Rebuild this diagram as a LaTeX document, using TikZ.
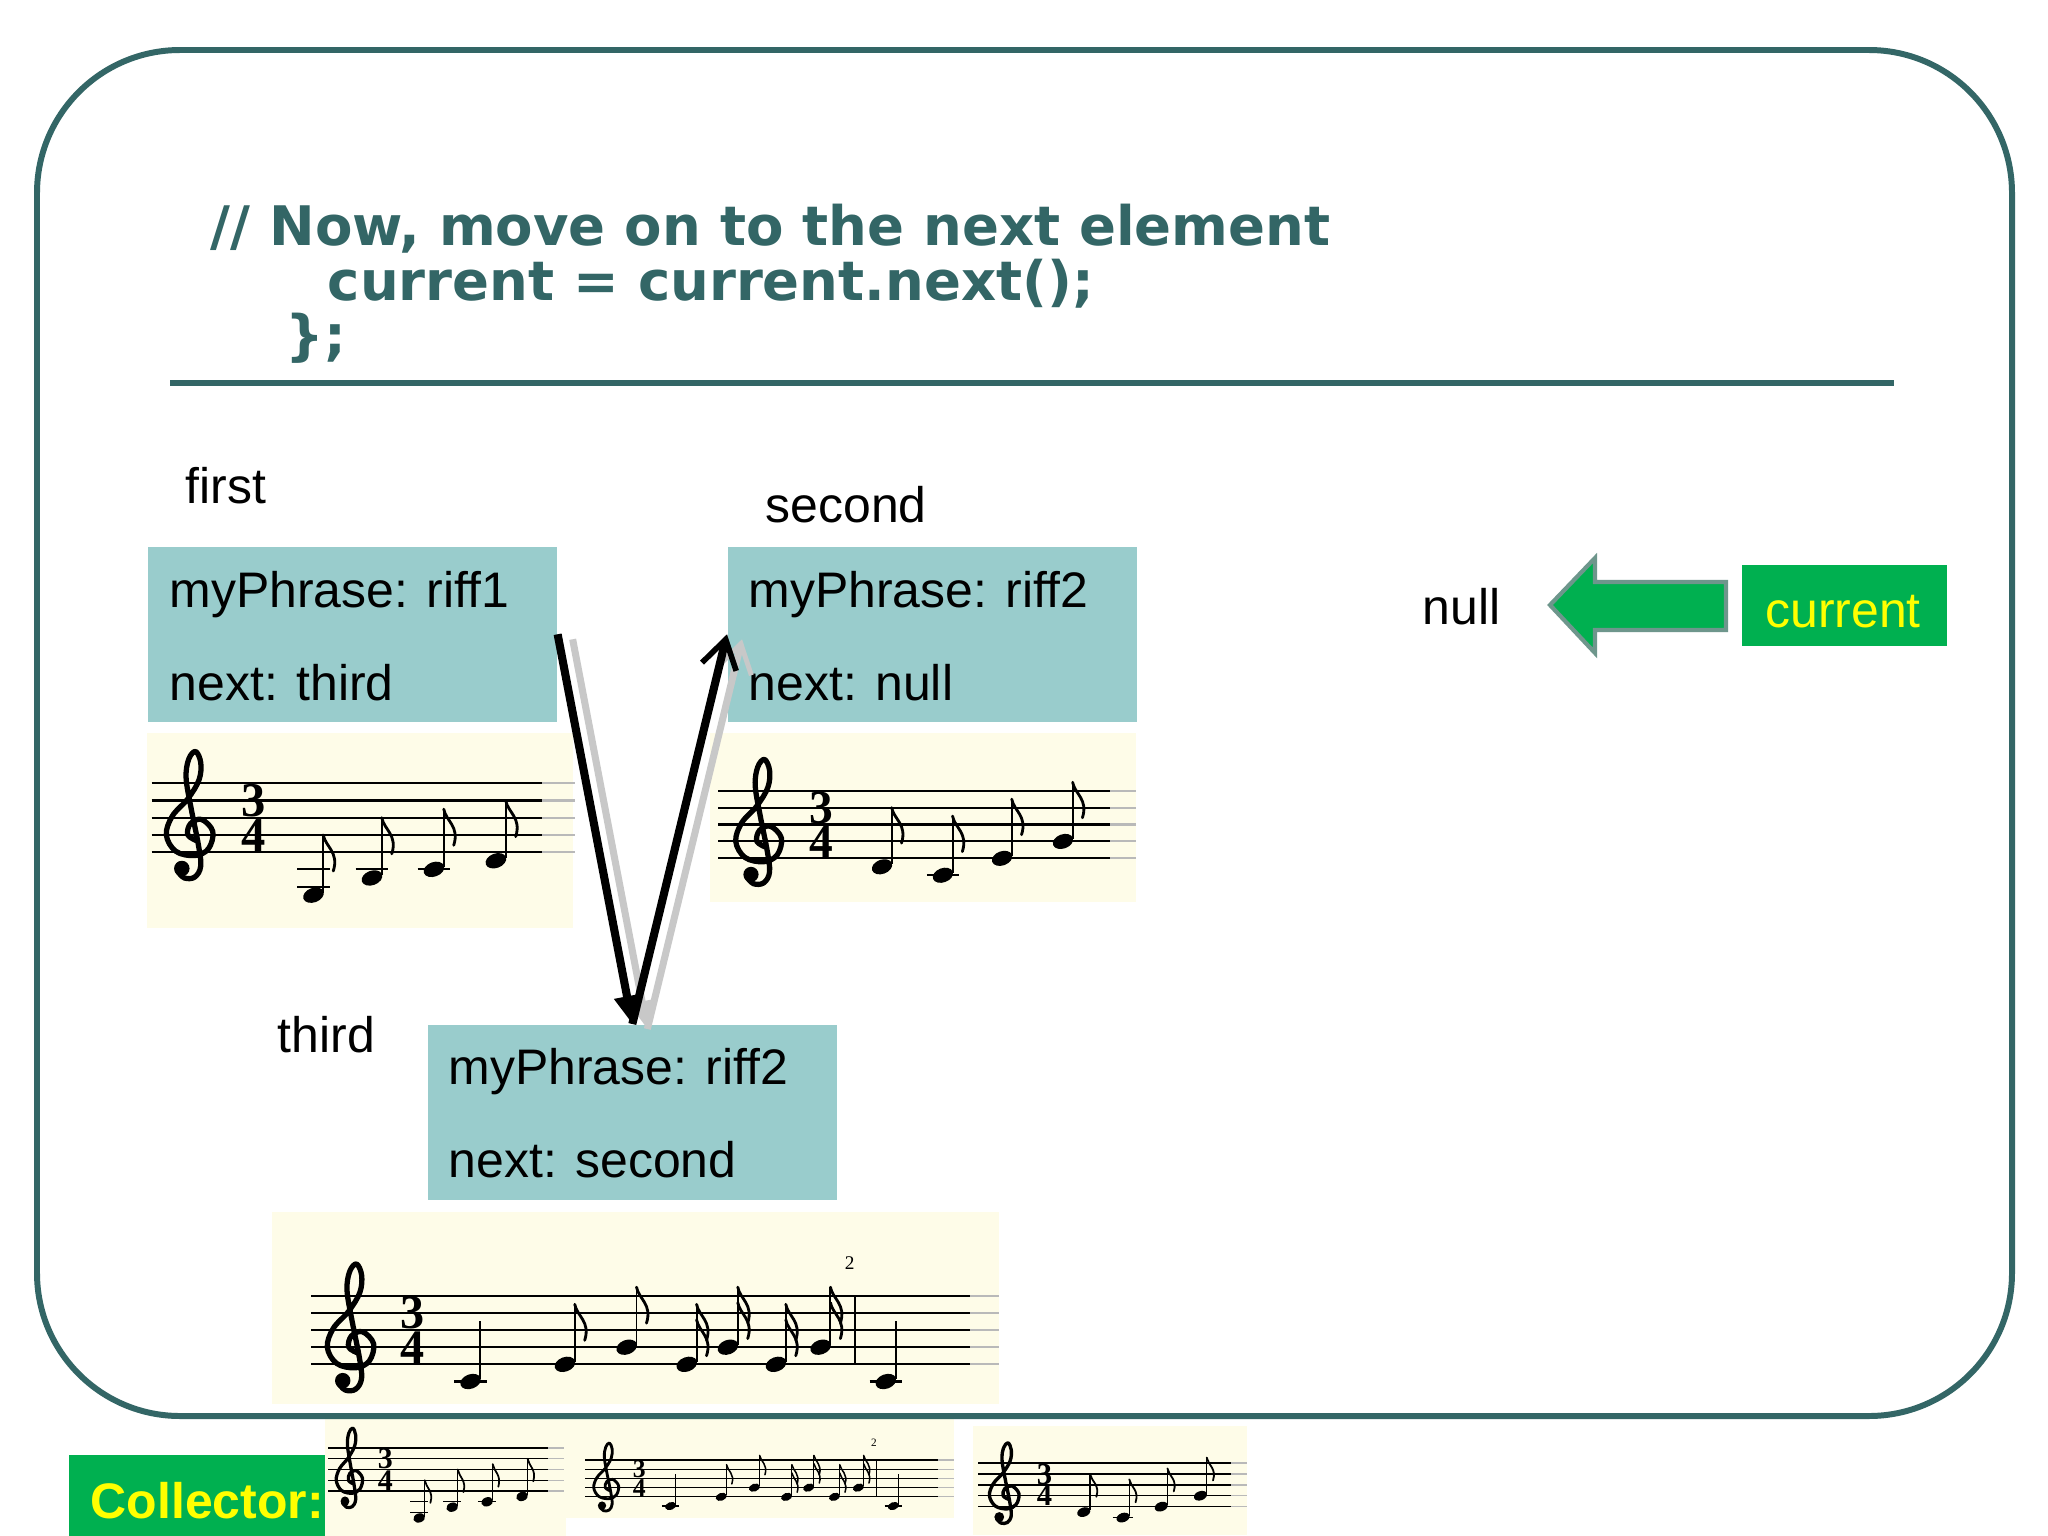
\documentclass[tikz,border=0pt]{standalone}
\usepackage{fontspec}
\setmainfont{Liberation Sans}
\newfontfamily\titlefont{DejaVu Sans}
\newfontfamily\serifd{Liberation Serif}
\usetikzlibrary{arrows.meta}

\definecolor{frameteal}{RGB}{51,102,102}
\definecolor{boxteal}{RGB}{153,204,204}
\definecolor{cream}{RGB}{254,252,232}
\definecolor{mygreen}{RGB}{0,176,80}
\definecolor{myyellow}{RGB}{255,255,0}
\definecolor{arrowedge}{RGB}{110,150,140}
\definecolor{shadowgray}{RGB}{200,200,200}
\definecolor{tailgray}{RGB}{185,185,185}

\def\sclf{1}
\def\tsz{13.6}
\def\tsbs{9.8}
\def\snsz{5.5}
\tikzset{
  frame/.style={draw=frameteal, line width=1.7pt, rounded corners=1.43cm},
  rulestyle/.style={draw=frameteal, line width=1.8pt},
  titletext/.style={anchor=base west, inner sep=0pt, text=frameteal, font={\titlefont\bfseries\fontsize{15.5}{18}\selectfont}},
  lbl/.style={anchor=base west, inner sep=0pt, text=black, font={\fontsize{14.2}{17}\selectfont}},
  ylbl/.style={inner sep=0pt, text=myyellow, font={\fontsize{14.2}{17}\selectfont}},
  colltext/.style={anchor=base west, inner sep=0pt, text=myyellow, font={\bfseries\fontsize{14.2}{17}\selectfont}},
  box/.style={fill=boxteal, draw=none, anchor=north west, minimum width=4.09cm, minimum height=1.75cm, inner sep=0pt},
  greenbox/.style={fill=mygreen, draw=none, anchor=north west, inner sep=0pt},
  ptr/.style={draw=black, line width=2.3pt},
  ptrshadow/.style={draw=shadowgray, line width=2pt},
  blockarrow/.style={fill=mygreen, draw=arrowedge, line width=1.2pt, line join=miter},
  staffline/.style={draw=black, line width=0.6pt*\sclf},
  stafftail/.style={draw=tailgray, line width=0.6pt*\sclf},
  stemline/.style={draw=black, line width=0.55pt*\sclf},
  flagline/.style={draw=black, line width=0.8pt*\sclf, line cap=round},
  clefline/.style={draw=black, line width=1.5pt*\sclf, line cap=round, line join=round},
  barline/.style={draw=black, line width=0.6pt*\sclf},
  tsig/.style={inner sep=0pt, align=center, font={\serifd\bfseries\fontsize{\tsz pt}{\tsbs pt}\selectfont}},
  smallnum/.style={inner sep=0pt, font={\serifd\fontsize{\snsz pt}{\snsz pt}\selectfont}},
  scorebg/.style={fill=cream},
}

% ---- music helpers (local units: 1 = one staff space, y downward) ----
\newcommand\mstaff[2]{%
  \foreach \k in {0,...,4} {\draw[staffline] (0,\k) -- (#1,\k); \draw[stafftail] (#1,\k) -- (#2,\k);}}
\newcommand\mclef[1]{%
  \begin{scope}[shift={(#1,0)}]
    \draw[clefline] plot[smooth, tension=0.6] coordinates {
      (2.75,3.35) (2.2,3.0) (2.35,2.35) (3.0,2.1) (3.65,2.8) (3.4,3.8) (2.6,4.2)
      (1.5,3.95) (0.95,3.0) (1.3,1.9) (2.2,0.9) (2.85,-0.2) (2.95,-1.2) (2.65,-1.85)
      (2.25,-1.4) (2.1,-0.3) (2.4,1.5) (2.8,3.5) (2.95,4.8) (2.6,5.45) (2.0,5.5) (1.6,5.1)};
    \fill (1.85,4.95) circle [radius=0.45];
  \end{scope}}
\newcommand\mtime[1]{\node[tsig] at (#1,2) {3\\4};}
\newcommand\nh[2]{\fill[rotate around={20:(#1,#2)}] (#1,#2) ellipse [x radius=0.62, y radius=0.42];}
\newcommand\mstem[2]{\draw[stemline] (#1+0.57,#2-0.15) -- (#1+0.57,#2-3.5);}
\newcommand\mflag[2]{\draw[flagline] (#1+0.57,#2) .. controls (#1+0.7,#2+0.7) and (#1+1.5,#2+1.0) .. (#1+1.15,#2+2.1);}
\newcommand\ledger[2]{\draw[staffline] (#1-0.95,#2) -- (#1+0.95,#2);}
\newcommand\quarter[2]{\nh{#1}{#2}\mstem{#1}{#2}}
\newcommand\eighth[2]{\nh{#1}{#2}\mstem{#1}{#2}\mflag{#1}{#2-3.5}}
\newcommand\sixteenth[2]{\nh{#1}{#2}\mstem{#1}{#2}\mflag{#1}{#2-3.5}\mflag{#1}{#2-2.6}}

\newcommand\scoreOne{%
  \fill[scorebg] (-0.27,-2.9) rectangle (24.5,8.4);
  \mstaff{22.7}{24.6}
  \mclef{-0.1}
  \mtime{5.9}
  \ledger{9.4}{5}\ledger{9.4}{6}\eighth{9.4}{6.5}
  \ledger{12.8}{5}\eighth{12.8}{5.5}
  \ledger{16.4}{5}\eighth{16.4}{5}
  \eighth{20.0}{4.5}}
\newcommand\scoreTwo{%
  \fill[scorebg] (-0.47,-3.4) rectangle (24.7,6.6);
  \mstaff{23.2}{24.7}
  \mclef{0.1}
  \mtime{6.1}
  \eighth{9.7}{4.5}
  \ledger{13.3}{5}\eighth{13.3}{5}
  \eighth{16.8}{4}
  \eighth{20.4}{3}}
\newcommand\scoreThree{%
  \fill[scorebg] (-2.3,-4.9) rectangle (40.1,6.3);
  \mstaff{38.4}{40.1}
  \mclef{0}
  \mtime{5.9}
  \ledger{9.3}{5}\quarter{9.3}{5}
  \eighth{14.8}{4}\eighth{18.4}{3}
  \sixteenth{21.9}{4}\sixteenth{24.3}{3}\sixteenth{27.1}{4}\sixteenth{29.7}{3}
  \draw[barline] (31.7,0) -- (31.7,4);
  \node[smallnum] at (31.4,-1.9) {2};
  \ledger{33.5}{5}\quarter{33.5}{5}}

\begin{document}
\begin{tikzpicture}[x=0.01cm, y=-0.01cm]
\useasboundingbox (0,0) rectangle (2048,1536);
\fill[white] (0,0) rectangle (2048,1536);

% title code
\node[titletext] (t1) at (210,245) {// Now, move on to the next element};
\node[titletext] (t2) at (327,300) {current = current.next();};
\node[titletext] (t3) at (285,354) {\};};
\draw[rulestyle] (170,383) -- (1894,383);

% scores
\begin{scope}[shift={(151.7,783.3)}, x=0.172cm, y=-0.172cm]
  \def\sclf{1}\def\tsz{13.8}\def\tsbs{9.8}\scoreOne
\end{scope}
\begin{scope}[shift={(718,790.7)}, x=0.169cm, y=-0.169cm]
  \def\sclf{1}\def\tsz{13.5}\def\tsbs{9.6}\scoreTwo
\end{scope}
\begin{scope}[shift={(311,1295.7)}, x=0.1715cm, y=-0.1715cm]
  \def\sclf{1}\def\tsz{13.7}\def\tsbs{9.76}\def\snsz{5.5}\scoreThree
\end{scope}
% collector scores
\begin{scope}[shift={(328,1448)}, x=0.097cm, y=-0.1075cm]
  \def\sclf{0.62}\def\tsz{8.5}\def\tsbs{6.1}\scoreOne
\end{scope}
\begin{scope}[shift={(585,1460)}, x=0.092cm, y=-0.092cm]
  \def\sclf{0.54}\def\tsz{7.3}\def\tsbs{5.2}\def\snsz{3.2}\scoreThree
\end{scope}
\begin{scope}[shift={(978,1463)}, x=0.109cm, y=-0.109cm]
  \def\sclf{0.64}\def\tsz{8.7}\def\tsbs{6.2}\scoreTwo
\end{scope}

% list nodes
\node[box] (b1) at (147,546) {};
\node[box] (b2) at (727,546) {};
\node[box] (b3) at (427,1024) {};
\node[lbl] (b1a) at (169,607) {myPhrase: riff1};
\node[lbl] (b1b) at (169,700) {next: third};
\node[lbl] (b2a) at (748,607) {myPhrase: riff2};
\node[lbl] (b2b) at (748,700) {next: null};
\node[lbl] (b3a) at (448,1084) {myPhrase: riff2};
\node[lbl] (b3b) at (448,1177) {next: second};

\node[lbl] (lfirst) at (185,503) {first};
\node[lbl] (lsecond) at (765,522) {second};
\node[lbl] (lthird) at (277,1052) {third};
\node[lbl] (lnull) at (1422,624) {null};

% pointers
\begin{scope}[transform canvas={shift={(0.15cm,-0.05cm)}}]
  \draw[ptrshadow, -{Triangle[length=8pt,width=7pt]}] (b1.east) -- (b3.north);
  \draw[ptrshadow, -{Straight Barb[length=8pt,width=10pt,line width=1.4pt]}] (b3.north) -- (b2.west);
\end{scope}
\draw[ptr, -{Triangle[length=8pt,width=7pt]}] (b1.east) -- (b3.north);
\draw[ptr, -{Straight Barb[length=8pt,width=10pt,line width=1.6pt]}] (b3.north) -- (b2.west);

% current
\node[greenbox, minimum width=2.05cm, minimum height=0.81cm] (cur) at (1741,564) {};
\node[ylbl, anchor=base] (curt) at (1843,627) {current};
\draw[blockarrow] (1550,605) -- (1595,558) -- (1595,582) -- (1726,582) -- (1726,630)
   -- (1595,630) -- (1595,653) -- cycle;

% collector
\node[greenbox, minimum width=2.56cm, minimum height=0.84cm] (coll) at (68,1454) {};
\node[colltext] (collt) at (90,1518) {Collector:};

% frame
\draw[frame] (37,50) rectangle (2012,1416);
\end{tikzpicture}
\end{document}
